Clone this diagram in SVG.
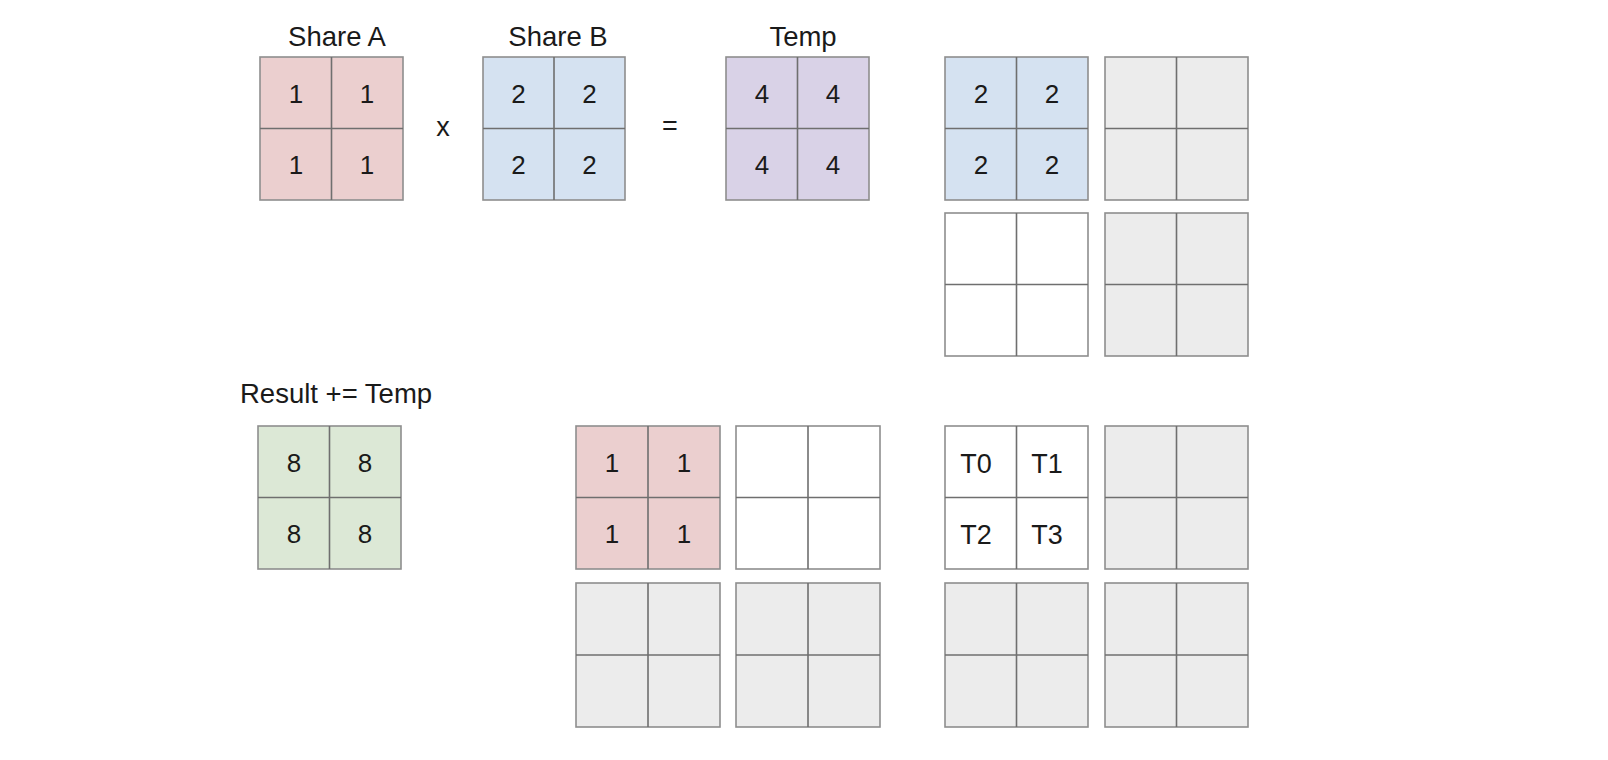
<svg xmlns="http://www.w3.org/2000/svg" width="1608" height="760" viewBox="0 0 1608 760">
<style>
  .g { stroke: #8e8e8e; stroke-width: 1.6; }
  .ln { stroke: #6f6f6f; stroke-width: 1.6; fill: none; }
  .pink { fill: #ebcfcf; }
  .blue { fill: #d5e2f1; }
  .purple { fill: #d9d2e7; }
  .green { fill: #dce8d6; }
  .gray { fill: #ececec; }
  .white { fill: #ffffff; }
  text { font-family: "Liberation Sans", Arial, sans-serif; fill: #1a1a1a; }
  .lbl { font-size: 27.5px; }
  .num { font-size: 26px; text-anchor: middle; }
  .t { font-size: 27px; text-anchor: middle; }
  .op { font-size: 27px; text-anchor: middle; }
</style>
<rect width="1608" height="760" fill="#ffffff"/>

<g id="labels">
  <text class="lbl" x="337" y="46" text-anchor="middle">Share A</text>
  <text class="lbl" x="558" y="46" text-anchor="middle">Share B</text>
  <text class="lbl" x="803" y="46" text-anchor="middle">Temp</text>
  <text class="lbl" x="240" y="403">Result += Temp</text>
  <text class="op" x="443" y="136">x</text>
  <text class="op" x="670" y="135">=</text>
</g>

<g id="shareA">
  <rect class="g pink" x="260" y="57" width="143" height="143"/>
  <path class="ln" d="M331.5 57V200M260 128.5H403"/>
  <text class="num" x="296" y="103">1</text><text class="num" x="367" y="103">1</text>
  <text class="num" x="296" y="174">1</text><text class="num" x="367" y="174">1</text>
</g>

<g id="shareB">
  <rect class="g blue" x="483" y="57" width="142" height="143"/>
  <path class="ln" d="M554 57V200M483 128.5H625"/>
  <text class="num" x="518.5" y="103">2</text><text class="num" x="589.5" y="103">2</text>
  <text class="num" x="518.5" y="174">2</text><text class="num" x="589.5" y="174">2</text>
</g>

<g id="temp">
  <rect class="g purple" x="726" y="57" width="143" height="143"/>
  <path class="ln" d="M797.5 57V200M726 128.5H869"/>
  <text class="num" x="762" y="103">4</text><text class="num" x="833" y="103">4</text>
  <text class="num" x="762" y="174">4</text><text class="num" x="833" y="174">4</text>
</g>

<g id="grid-r1c1">
  <rect class="g blue" x="945" y="57" width="143" height="143"/>
  <path class="ln" d="M1016.5 57V200M945 128.5H1088"/>
  <text class="num" x="981" y="103">2</text><text class="num" x="1052" y="103">2</text>
  <text class="num" x="981" y="174">2</text><text class="num" x="1052" y="174">2</text>
</g>

<g id="grid-r1c2">
  <rect class="g gray" x="1105" y="57" width="143" height="143"/>
  <path class="ln" d="M1176.5 57V200M1105 128.5H1248"/>
</g>

<g id="grid-r2c1">
  <rect class="g white" x="945" y="213" width="143" height="143"/>
  <path class="ln" d="M1016.5 213V356M945 284.5H1088"/>
</g>

<g id="grid-r2c2">
  <rect class="g gray" x="1105" y="213" width="143" height="143"/>
  <path class="ln" d="M1176.5 213V356M1105 284.5H1248"/>
</g>

<g id="result">
  <rect class="g green" x="258" y="426" width="143" height="143"/>
  <path class="ln" d="M329.5 426V569M258 497.5H401"/>
  <text class="num" x="294" y="472">8</text><text class="num" x="365" y="472">8</text>
  <text class="num" x="294" y="543">8</text><text class="num" x="365" y="543">8</text>
</g>

<g id="grid-b1">
  <rect class="g pink" x="576" y="426" width="144" height="143"/>
  <path class="ln" d="M648 426V569M576 497.5H720"/>
  <text class="num" x="612" y="472">1</text><text class="num" x="684" y="472">1</text>
  <text class="num" x="612" y="543">1</text><text class="num" x="684" y="543">1</text>
</g>

<g id="grid-b2">
  <rect class="g white" x="736" y="426" width="144" height="143"/>
  <path class="ln" d="M808 426V569M736 497.5H880"/>
</g>

<g id="grid-t">
  <rect class="g white" x="945" y="426" width="143" height="143"/>
  <path class="ln" d="M1016.5 426V569M945 497.5H1088"/>
  <text class="t" x="976" y="473">T0</text><text class="t" x="1047" y="473">T1</text>
  <text class="t" x="976" y="544">T2</text><text class="t" x="1047" y="544">T3</text>
</g>

<g id="grid-b3">
  <rect class="g gray" x="1105" y="426" width="143" height="143"/>
  <path class="ln" d="M1176.5 426V569M1105 497.5H1248"/>
</g>

<g id="grid-b4">
  <rect class="g gray" x="576" y="583" width="144" height="144"/>
  <path class="ln" d="M648 583V727M576 655H720"/>
</g>

<g id="grid-b5">
  <rect class="g gray" x="736" y="583" width="144" height="144"/>
  <path class="ln" d="M808 583V727M736 655H880"/>
</g>

<g id="grid-b6">
  <rect class="g gray" x="945" y="583" width="143" height="144"/>
  <path class="ln" d="M1016.5 583V727M945 655H1088"/>
</g>

<g id="grid-b7">
  <rect class="g gray" x="1105" y="583" width="143" height="144"/>
  <path class="ln" d="M1176.5 583V727M1105 655H1248"/>
</g>

<g id="connectors"></g>
</svg>
